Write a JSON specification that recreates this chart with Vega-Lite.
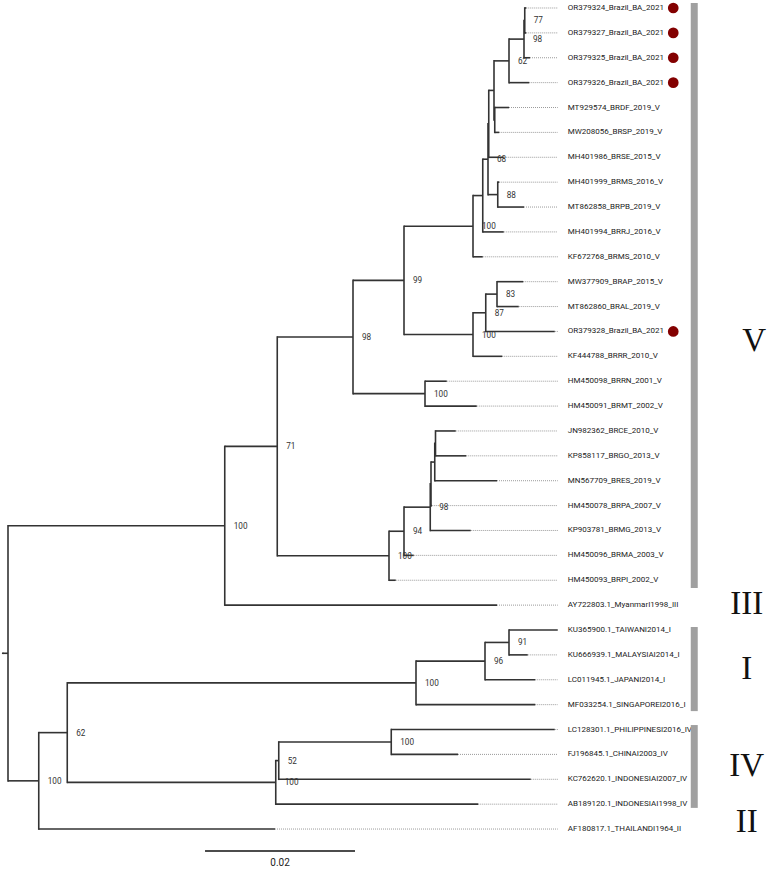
{
  "$schema": "https://vega.github.io/schema/vega-lite/v6.json",
  "width": 767,
  "height": 869,
  "padding": 0,
  "autosize": {"type": "none"},
  "background": "white",
  "config": {"view": {"stroke": null}},
  "datasets": {
    "nodes": [
      {"id": "base", "parent": null, "x": -0.0007, "y": 25.936},
      {"id": "root", "parent": "base", "x": 0, "y": 25.936},
      {"id": "A", "parent": "root", "x": 0.0289, "y": 20.81, "support": 100},
      {"id": "X", "parent": "root", "x": 0.0041, "y": 31.0625, "support": 100},
      {"id": "B", "parent": "A", "x": 0.0359, "y": 17.62, "support": 71},
      {"id": "C", "parent": "B", "x": 0.046, "y": 13.224, "support": 98},
      {"id": "D", "parent": "B", "x": 0.0508, "y": 22.016, "support": 100},
      {"id": "E", "parent": "C", "x": 0.0528, "y": 10.947, "support": 99},
      {"id": "F", "parent": "C", "x": 0.0556, "y": 15.5, "support": 100},
      {"id": "G", "parent": "E", "x": 0.062, "y": 8.77, "support": 100},
      {"id": "H", "parent": "E", "x": 0.062, "y": 13.125, "support": 100},
      {"id": "K", "parent": "G", "x": 0.0633, "y": 7.539},
      {"id": "Q2", "parent": "K", "x": 0.064, "y": 6.078, "support": 68},
      {"id": "Q1", "parent": "Q2", "x": 0.0641, "y": 4.656},
      {"id": "R", "parent": "Q2", "x": 0.0653, "y": 7.5, "support": 88},
      {"id": "O", "parent": "Q1", "x": 0.0648, "y": 3.3125},
      {"id": "P", "parent": "O", "x": 0.0649, "y": 4.5},
      {"id": "n62", "parent": "O", "x": 0.0668, "y": 2.125, "support": 62},
      {"id": "M", "parent": "n62", "x": 0.0688, "y": 1.25, "support": 98},
      {"id": "N", "parent": "M", "x": 0.0689, "y": 0.5, "support": 77},
      {"id": "I", "parent": "H", "x": 0.0637, "y": 12.25, "support": 87},
      {"id": "J", "parent": "I", "x": 0.0652, "y": 11.5, "support": 83},
      {"id": "S", "parent": "D", "x": 0.0528, "y": 21.031, "support": 94},
      {"id": "T2", "parent": "S", "x": 0.0563, "y": 20.0625, "support": 98},
      {"id": "T1", "parent": "T2", "x": 0.0564, "y": 19.125},
      {"id": "U2", "parent": "T1", "x": 0.0569, "y": 18.25},
      {"id": "U1", "parent": "U2", "x": 0.057, "y": 17.5},
      {"id": "Y", "parent": "X", "x": 0.0079, "y": 29.125, "support": 62},
      {"id": "Z", "parent": "Y", "x": 0.0544, "y": 27.125, "support": 100},
      {"id": "Z2", "parent": "Z", "x": 0.0636, "y": 26.25, "support": 96},
      {"id": "Z3", "parent": "Z2", "x": 0.0668, "y": 25.5, "support": 91},
      {"id": "W", "parent": "Y", "x": 0.0357, "y": 31.125, "support": 100},
      {"id": "W2", "parent": "W", "x": 0.0361, "y": 30.25, "support": 52},
      {"id": "W3", "parent": "W2", "x": 0.0511, "y": 29.5, "support": 100},
      {"id": "t0", "parent": "N", "x": 0.0691, "y": 0, "name": "OR379324_Brazil_BA_2021", "red": true},
      {"id": "t1", "parent": "N", "x": 0.0691, "y": 1, "name": "OR379327_Brazil_BA_2021", "red": true},
      {"id": "t2", "parent": "M", "x": 0.0696, "y": 2, "name": "OR379325_Brazil_BA_2021", "red": true},
      {"id": "t3", "parent": "n62", "x": 0.0695, "y": 3, "name": "OR379326_Brazil_BA_2021", "red": true},
      {"id": "t4", "parent": "P", "x": 0.0668, "y": 4, "name": "MT929574_BRDF_2019_V"},
      {"id": "t5", "parent": "P", "x": 0.0655, "y": 5, "name": "MW208056_BRSP_2019_V"},
      {"id": "t6", "parent": "Q1", "x": 0.0661, "y": 6, "name": "MH401986_BRSE_2015_V"},
      {"id": "t7", "parent": "R", "x": 0.0655, "y": 7, "name": "MH401999_BRMS_2016_V"},
      {"id": "t8", "parent": "R", "x": 0.0688, "y": 8, "name": "MT862858_BRPB_2019_V"},
      {"id": "t9", "parent": "K", "x": 0.0661, "y": 9, "name": "MH401994_BRRJ_2016_V"},
      {"id": "t10", "parent": "G", "x": 0.0633, "y": 10, "name": "KF672768_BRMS_2010_V"},
      {"id": "t11", "parent": "J", "x": 0.0687, "y": 11, "name": "MW377909_BRAP_2015_V"},
      {"id": "t12", "parent": "J", "x": 0.0681, "y": 12, "name": "MT862860_BRAL_2019_V"},
      {"id": "t13", "parent": "I", "x": 0.0729, "y": 13, "name": "OR379328_Brazil_BA_2021", "red": true},
      {"id": "t14", "parent": "H", "x": 0.0659, "y": 14, "name": "KF444788_BRRR_2010_V"},
      {"id": "t15", "parent": "F", "x": 0.0585, "y": 15, "name": "HM450098_BRRN_2001_V"},
      {"id": "t16", "parent": "F", "x": 0.0625, "y": 16, "name": "HM450091_BRMT_2002_V"},
      {"id": "t17", "parent": "U1", "x": 0.0597, "y": 17, "name": "JN982362_BRCE_2010_V"},
      {"id": "t18", "parent": "U1", "x": 0.0611, "y": 18, "name": "KP858117_BRGO_2013_V"},
      {"id": "t19", "parent": "U2", "x": 0.0652, "y": 19, "name": "MN567709_BRES_2019_V"},
      {"id": "t20", "parent": "T1", "x": 0.0565, "y": 20, "name": "HM450078_BRPA_2007_V"},
      {"id": "t21", "parent": "T2", "x": 0.0617, "y": 21, "name": "KP903781_BRMG_2013_V"},
      {"id": "t22", "parent": "S", "x": 0.0541, "y": 22, "name": "HM450096_BRMA_2003_V"},
      {"id": "t23", "parent": "D", "x": 0.0517, "y": 23, "name": "HM450093_BRPI_2002_V"},
      {"id": "t24", "parent": "A", "x": 0.0652, "y": 24, "name": "AY722803.1_MyanmarI1998_III"},
      {"id": "t25", "parent": "Z3", "x": 0.0733, "y": 25, "name": "KU365900.1_TAIWANI2014_I"},
      {"id": "t26", "parent": "Z3", "x": 0.0693, "y": 26, "name": "KU666939.1_MALAYSIAI2014_I"},
      {"id": "t27", "parent": "Z2", "x": 0.0703, "y": 27, "name": "LC011945.1_JAPANI2014_I"},
      {"id": "t28", "parent": "Z", "x": 0.0703, "y": 28, "name": "MF033254.1_SINGAPOREI2016_I"},
      {"id": "t29", "parent": "W3", "x": 0.0729, "y": 29, "name": "LC128301.1_PHILIPPINESI2016_IV"},
      {"id": "t30", "parent": "W3", "x": 0.06, "y": 30, "name": "FJ196845.1_CHINAI2003_IV"},
      {"id": "t31", "parent": "W2", "x": 0.0697, "y": 31, "name": "KC762620.1_INDONESIAI2007_IV"},
      {"id": "t32", "parent": "W", "x": 0.0627, "y": 32, "name": "AB189120.1_INDONESIAI1998_IV"},
      {"id": "t33", "parent": "X", "x": 0.0356, "y": 33, "name": "AF180817.1_THAILANDI1964_II"}
    ],
    "clades": [
      {"clade": "V", "y1": -0.2, "y2": 23.31, "ly": 13.34, "lx": 0.0995, "bar": true},
      {"clade": "III", "ly": 23.93, "lx": 0.0985, "bar": false},
      {"clade": "I", "y1": 24.88, "y2": 28.26, "ly": 26.53, "lx": 0.0985, "bar": true},
      {"clade": "IV", "y1": 28.82, "y2": 32.15, "ly": 30.41, "lx": 0.0985, "bar": true},
      {"clade": "II", "ly": 32.66, "lx": 0.0985, "bar": false}
    ],
    "scalebar": [
      {"x": 0.02627, "x2": 0.04627, "lx": 0.03627, "y": 33.88, "ly": 34.38, "label": "0.02"}
    ]
  },
  "layer": [
    {
      "data": {"name": "nodes"},
      "transform": [{"filter": "isValid(datum.name)"}],
      "mark": {"type": "rule", "stroke": "#9a9a9a", "strokeWidth": 1, "strokeDash": [1, 1]},
      "encoding": {
        "x": {"field": "x", "type": "quantitative", "scale": {"domain": [-0.0010667, 0.1012], "nice": false, "zero": false}, "axis": null},
        "x2": {"datum": 0.0733},
        "y": {"field": "y", "type": "quantitative", "scale": {"domain": [-0.3215, 34.606], "nice": false, "zero": false, "reverse": true}, "axis": null}
      }
    },
    {
      "data": {"name": "nodes"},
      "transform": [
        {"filter": "datum.parent != null"},
        {"aggregate": [{"op": "min", "field": "y", "as": "ymin"}, {"op": "max", "field": "y", "as": "ymax"}], "groupby": ["parent"]},
        {"lookup": "parent", "from": {"data": {"name": "nodes"}, "key": "id", "fields": ["x"]}, "as": ["px"]}
      ],
      "mark": {"type": "rule", "stroke": "#333333", "strokeWidth": 1.6, "strokeCap": "square"},
      "encoding": {
        "x": {"field": "px", "type": "quantitative", "scale": {"domain": [-0.0010667, 0.1012], "nice": false, "zero": false}, "axis": null},
        "y": {"field": "ymin", "type": "quantitative", "scale": {"domain": [-0.3215, 34.606], "nice": false, "zero": false, "reverse": true}, "axis": null},
        "y2": {"field": "ymax"}
      }
    },
    {
      "data": {"name": "nodes"},
      "transform": [
        {"filter": "datum.parent != null"},
        {"lookup": "parent", "from": {"data": {"name": "nodes"}, "key": "id", "fields": ["x"]}, "as": ["px"]}
      ],
      "mark": {"type": "rule", "stroke": "#333333", "strokeWidth": 1.6},
      "encoding": {
        "x": {"field": "px", "type": "quantitative", "scale": {"domain": [-0.0010667, 0.1012], "nice": false, "zero": false}, "axis": null},
        "x2": {"field": "x"},
        "y": {"field": "y", "type": "quantitative", "scale": {"domain": [-0.3215, 34.606], "nice": false, "zero": false, "reverse": true}, "axis": null}
      }
    },
    {
      "data": {"name": "nodes"},
      "transform": [{"filter": "isValid(datum.support)"}],
      "mark": {"type": "text", "align": "left", "baseline": "middle", "dx": 9, "dy": 1, "font": "Roboto", "fontSize": 8.2, "fill": "#333333"},
      "encoding": {
        "x": {"field": "x", "type": "quantitative", "scale": {"domain": [-0.0010667, 0.1012], "nice": false, "zero": false}, "axis": null},
        "y": {"field": "y", "type": "quantitative", "scale": {"domain": [-0.3215, 34.606], "nice": false, "zero": false, "reverse": true}, "axis": null},
        "text": {"field": "support", "type": "nominal"}
      }
    },
    {
      "data": {"name": "nodes"},
      "transform": [{"filter": "isValid(datum.name)"}],
      "mark": {"type": "text", "align": "left", "baseline": "middle", "dx": 10, "font": "Roboto", "fontSize": 8, "fill": "#222222"},
      "encoding": {
        "x": {"datum": 0.0733, "type": "quantitative", "scale": {"domain": [-0.0010667, 0.1012], "nice": false, "zero": false}, "axis": null},
        "y": {"field": "y", "type": "quantitative", "scale": {"domain": [-0.3215, 34.606], "nice": false, "zero": false, "reverse": true}, "axis": null},
        "text": {"field": "name", "type": "nominal"}
      }
    },
    {
      "data": {"name": "nodes"},
      "transform": [{"filter": "datum.red === true"}],
      "mark": {"type": "point", "filled": true, "shape": "circle", "size": 115, "color": "#830000", "opacity": 1},
      "encoding": {
        "x": {"datum": 0.0887, "type": "quantitative", "scale": {"domain": [-0.0010667, 0.1012], "nice": false, "zero": false}, "axis": null},
        "y": {"field": "y", "type": "quantitative", "scale": {"domain": [-0.3215, 34.606], "nice": false, "zero": false, "reverse": true}, "axis": null}
      }
    },
    {
      "data": {"name": "clades"},
      "transform": [{"filter": "datum.bar"}],
      "mark": {"type": "rule", "stroke": "#a0a0a0", "strokeWidth": 7},
      "encoding": {
        "x": {"datum": 0.0915, "type": "quantitative", "scale": {"domain": [-0.0010667, 0.1012], "nice": false, "zero": false}, "axis": null},
        "y": {"field": "y1", "type": "quantitative", "scale": {"domain": [-0.3215, 34.606], "nice": false, "zero": false, "reverse": true}, "axis": null},
        "y2": {"field": "y2"}
      }
    },
    {
      "data": {"name": "clades"},
      "mark": {"type": "text", "align": "center", "baseline": "alphabetic", "dy": 11, "font": "Liberation Serif", "fontSize": 33, "fill": "#111111"},
      "encoding": {
        "x": {"field": "lx", "type": "quantitative", "scale": {"domain": [-0.0010667, 0.1012], "nice": false, "zero": false}, "axis": null},
        "y": {"field": "ly", "type": "quantitative", "scale": {"domain": [-0.3215, 34.606], "nice": false, "zero": false, "reverse": true}, "axis": null},
        "text": {"field": "clade", "type": "nominal"}
      }
    },
    {
      "data": {"name": "scalebar"},
      "mark": {"type": "rule", "stroke": "#111111", "strokeWidth": 1.5},
      "encoding": {
        "x": {"field": "x", "type": "quantitative", "scale": {"domain": [-0.0010667, 0.1012], "nice": false, "zero": false}, "axis": null},
        "x2": {"field": "x2"},
        "y": {"field": "y", "type": "quantitative", "scale": {"domain": [-0.3215, 34.606], "nice": false, "zero": false, "reverse": true}, "axis": null}
      }
    },
    {
      "data": {"name": "scalebar"},
      "mark": {"type": "text", "align": "center", "baseline": "middle", "font": "Roboto", "fontSize": 10, "fill": "#222222"},
      "encoding": {
        "x": {"field": "lx", "type": "quantitative", "scale": {"domain": [-0.0010667, 0.1012], "nice": false, "zero": false}, "axis": null},
        "y": {"field": "ly", "type": "quantitative", "scale": {"domain": [-0.3215, 34.606], "nice": false, "zero": false, "reverse": true}, "axis": null},
        "text": {"field": "label", "type": "nominal"}
      }
    }
  ]
}
